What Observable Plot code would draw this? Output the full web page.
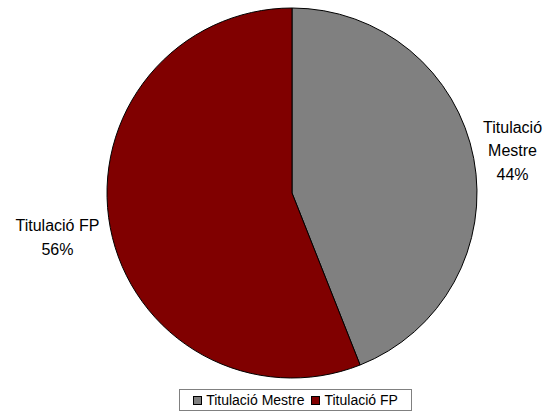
<!DOCTYPE html>
<html>
<head>
<meta charset="utf-8">
<script src="https://cdn.jsdelivr.net/npm/d3@7"></script>
<script src="https://cdn.jsdelivr.net/npm/@observablehq/plot@0.6"></script>
<style>
  body { margin: 0; background: #fff; font-family: "Liberation Sans", Arial, sans-serif; }
  #chart svg { display: block; }
  .legend { position: absolute; left: 179px; top: 389px; width: 233px; height: 22px; border: 1px solid #808080; box-sizing: border-box;
    display: flex; align-items: center; justify-content: center; font-size: 14px; color: #000; gap: 7px; white-space: nowrap; }
  .legend .item { display: flex; align-items: center; gap: 4px; }
  .legend .sw { width: 9px; height: 9px; border: 1px solid #000; display: inline-block; box-sizing: border-box; }
</style>
</head>
<body>
<div id="chart"></div>
<script>
const categories = ["Titulació Mestre", "Titulació FP"];
const labelLines = [["Titulació", "Mestre"], ["Titulació FP"]];
const values = [44, 56];
const colors = ["#808080", "#800000"];

const pie = d3.pie().sort(null).value(d => d.value)(categories.map((c, i) => ({name: c, value: values[i], color: colors[i], lines: labelLines[i]})));
const total = d3.sum(values);

const labels = pie.map(a => {
  const mid = (a.startAngle + a.endAngle) / 2;
  const r = 1.2;
  return {x: r * Math.sin(mid), y: r * Math.cos(mid), side: Math.sin(mid) >= 0 ? "right" : "left",
    text: a.data.lines.join("\n") + "\n" + Math.round(a.data.value / total * 100) + "%"};
});

function slices(index, scales) {
  const sx = scales.x, sy = scales.y;
  const cx = sx(0), cy = sy(0), r = sx(1) - sx(0);
  const g = d3.create("svg:g").attr("transform", `translate(${cx},${cy})`);
  const arc = d3.arc().innerRadius(0).outerRadius(r);
  g.selectAll("path").data(pie).join("path")
    .attr("d", arc).attr("fill", d => d.data.color)
    .attr("stroke", "#000").attr("stroke-width", 1).attr("stroke-linejoin", "round");
  return g.node();
}

const chart = Plot.plot({
  width: 547,
  height: 386,
  margin: 0,
  x: {domain: [-1, 1], range: [107, 477], axis: null},
  y: {domain: [-1, 1], range: [378, 8], axis: null},
  style: {fontFamily: "'Liberation Sans', Arial, sans-serif", background: "#fff"},
  marks: [
    slices,
    Plot.text(labels.filter(d => d.side === "right"), {x: "x", y: "y", text: "text", fontSize: 16, lineHeight: 1.45, dx: 2, dy: -3, fill: "#000"}),
    Plot.text(labels.filter(d => d.side === "left"), {x: "x", y: "y", text: "text", fontSize: 16, lineHeight: 1.55, dx: -17, dy: 0, fill: "#000"})
  ]
});
document.getElementById("chart").appendChild(chart);

const legend = document.createElement("div");
legend.className = "legend";
categories.forEach((c, i) => {
  const it = document.createElement("span");
  it.className = "item";
  it.innerHTML = `<span class="sw" style="background:${colors[i]}"></span><span>${c}</span>`;
  legend.appendChild(it);
});
document.body.appendChild(legend);
</script>
</body>
</html>
